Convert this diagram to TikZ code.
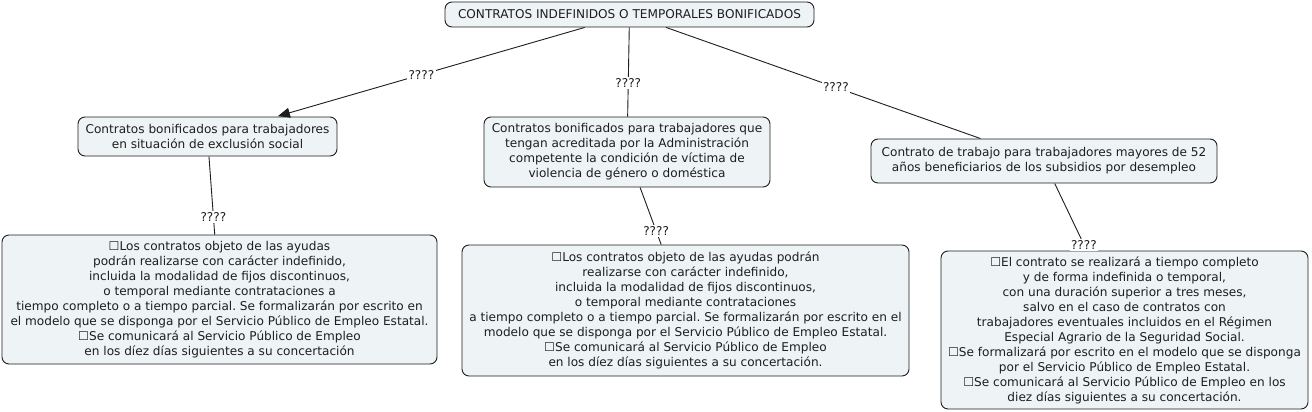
\documentclass[tikz,border=0pt]{standalone}
\usepackage{fontspec}
\setmainfont{DejaVu Sans}
\usetikzlibrary{arrows.meta}
\definecolor{boxfill}{HTML}{EEF3F5}
\definecolor{ink}{HTML}{1E1E1E}
\begin{document}
\frenchspacing
\begin{tikzpicture}[x=1pt,y=-1pt,
  box/.style={draw=ink, fill=boxfill, rounded corners=7pt, line width=0.9pt, align=center, inner sep=0pt, font=\fontsize{12.1}{15}\selectfont\frenchspacing, text=ink},
  lbl/.style={fill=white, inner sep=1.5pt, font=\fontsize{12.1}{15}\selectfont, text=ink},
  conn/.style={draw=ink, line width=0.9pt}]
\useasboundingbox[fill=white] (0,0) rectangle (1312,412);
\node[box, minimum width=369pt, minimum height=25pt] (top) at (629.5,14.5) {CONTRATOS INDEFINIDOS O TEMPORALES BONIFICADOS};
\node[box, minimum width=259pt, minimum height=39pt] (A) at (207.5,136.5) {Contratos bonificados para trabajadores\\en situación de exclusión social};
\node[box, minimum width=286pt, minimum height=70pt] (B) at (627,152) {Contratos bonificados para trabajadores que\\tengan acreditada por la Administración\\competente la condición de víctima de\\violencia de género o doméstica};
\node[box, minimum width=346pt, minimum height=44pt] (C) at (1044,161) {Contrato de trabajo para trabajadores mayores de 52\\años beneficiarios de los subsidios por desempleo};
\node[box, minimum width=435pt, minimum height=129pt] (D) at (219.5,299.5) {☐Los contratos objeto de las ayudas\\podrán realizarse con carácter indefinido,\\incluida la modalidad de fijos discontinuos,\\o temporal mediante contrataciones a\\tiempo completo o a tiempo parcial. Se formalizarán por escrito en\\el modelo que se disponga por el Servicio Público de Empleo Estatal.\\☐Se comunicará al Servicio Público de Empleo\\en los díez días siguientes a su concertación};
\node[box, minimum width=447pt, minimum height=131pt] (E) at (685.5,310.5) {☐Los contratos objeto de las ayudas podrán\\realizarse con carácter indefinido,\\incluida la modalidad de fijos discontinuos,\\o temporal mediante contrataciones\\a tiempo completo o a tiempo parcial. Se formalizarán por escrito en el\\modelo que se disponga por el Servicio Público de Empleo Estatal.\\☐Se comunicará al Servicio Público de Empleo\\en los díez días siguientes a su concertación.};
\node[box, minimum width=367pt, minimum height=158pt] (F) at (1124.5,330) {☐El contrato se realizará a tiempo completo\\y de forma indefinida o temporal,\\con una duración superior a tres meses,\\salvo en el caso de contratos con\\trabajadores eventuales incluidos en el Régimen\\Especial Agrario de la Seguridad Social.\\☐Se formalizará por escrito en el modelo que se disponga\\por el Servicio Público de Empleo Estatal.\\☐Se comunicará al Servicio Público de Empleo en los\\diez días siguientes a su concertación.};
\draw[conn, -{Triangle[length=12pt,width=10pt]}, shorten >=1.5pt] (top) -- node[lbl, pos=0.53] {????} (A);
\draw[conn] (top) -- node[lbl, pos=0.62] {????} (B);
\draw[conn] (top) -- node[lbl, pos=0.54] {????} (C);
\draw[conn] (A) -- node[lbl, pos=0.77] {????} (D);
\draw[conn] (B) -- node[lbl, pos=0.76] {????} (E);
\draw[conn] (C) -- node[lbl, pos=0.91] {????} (F);
\end{tikzpicture}
\end{document}
